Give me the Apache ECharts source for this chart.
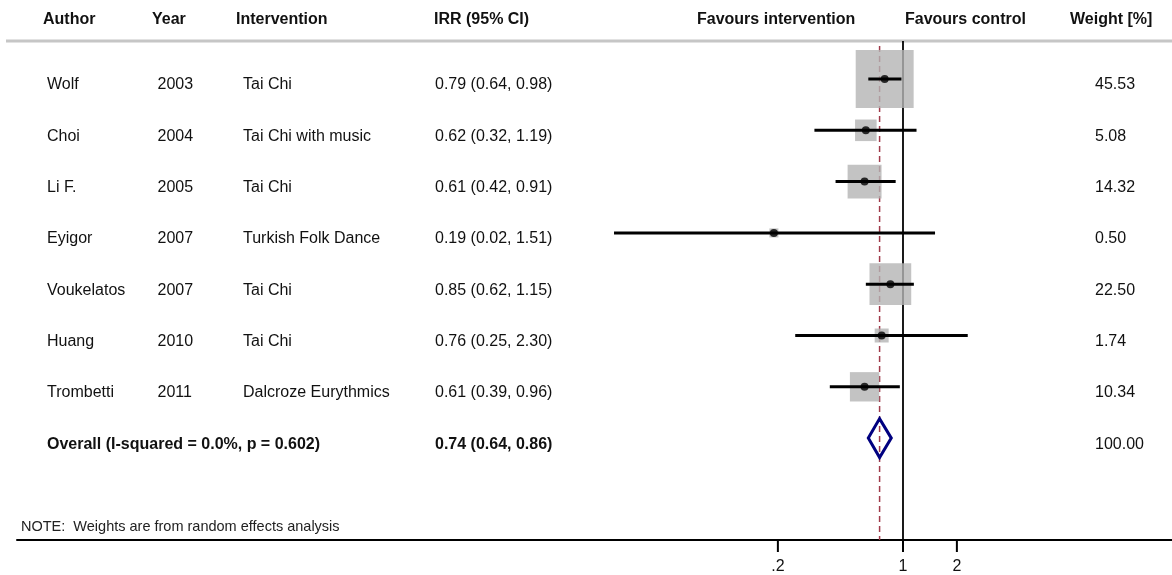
<!DOCTYPE html>
<html><head><meta charset="utf-8">
<script src="https://cdn.jsdelivr.net/npm/echarts@6/dist/echarts.min.js"></script>
<style>html,body{margin:0;padding:0;background:#fff}#c{width:1172px;height:575px}</style>
</head><body><div id="c"></div>
<script>
// ---- data ----
const authors = ['Wolf','Choi','Li F.','Eyigor','Voukelatos','Huang','Trombetti'];
const years = ['2003','2004','2005','2007','2007','2010','2011'];
const interventions = ['Tai Chi','Tai Chi with music','Tai Chi','Turkish Folk Dance','Tai Chi','Tai Chi','Dalcroze Eurythmics'];
const irr = [0.79,0.62,0.61,0.19,0.85,0.76,0.61];
const ciLow = [0.64,0.32,0.42,0.02,0.62,0.25,0.39];
const ciHigh = [0.98,1.19,0.91,1.51,1.15,2.30,0.96];
const weights = [45.53,5.08,14.32,0.50,22.50,1.74,10.34];
const overallLabel = 'Overall (I-squared = 0.0%, p = 0.602)';
const overallIrr = 0.74, overallLow = 0.64, overallHigh = 0.86, overallWeight = 100.00;
const tickValues = [0.2, 1, 2];
const tickLabels = ['.2', '1', '2'];
const headers = ['Author','Year','Intervention','IRR (95% CI)','Favours intervention','Favours control','Weight [%]'];
const note = 'NOTE:  Weights are from random effects analysis';

// ---- layout / style ----
const FONT = '"Liberation Sans", Arial, Helvetica, sans-serif';
const yMin = -0.7407, yMax = 8.986;
const xMin = Math.pow(10, -4.9497), xMax = Math.pow(10, 1.5028);
const displayMin = 0.0243; // plotted range floor (CI clipped like the original)
const rows = authors.map((_, i) => i);
const overallRow = authors.length;
const fmt = v => v.toFixed(2);
const irrText = rows.map(i => `${fmt(irr[i])} (${fmt(ciLow[i])}, ${fmt(ciHigh[i])})`);
const overallText = `${fmt(overallIrr)} (${fmt(overallLow)}, ${fmt(overallHigh)})`;

// table cells: [columnX, row, text, bold]
const colX = {author: 47, year: 157.5, interv: 243, irr: 435, weight: 1095};
const cells = [];
rows.forEach(i => {
  cells.push([colX.author, i, authors[i], 0]);
  cells.push([colX.year, i, years[i], 0]);
  cells.push([colX.interv, i, interventions[i], 0]);
  cells.push([colX.irr, i, irrText[i], 0]);
  cells.push([colX.weight, i, fmt(weights[i]), 0]);
});
cells.push([colX.author, overallRow, overallLabel, 1]);
cells.push([colX.irr, overallRow, overallText, 1]);
cells.push([colX.weight, overallRow, fmt(overallWeight), 0]);

const chart = echarts.init(document.getElementById('c'), null, {renderer: 'canvas'});
const hdrY = 20;
const hdrX = [43, 152, 236, 434, 697, 905, 1070];

chart.setOption({
  animation: false,
  backgroundColor: '#fff',
  grid: [
    {left: 17, right: 0, top: 41, bottom: 35},
    {left: 0, right: 0, top: 41, bottom: 35}
  ],
  xAxis: [
    {type: 'log', logBase: 10, gridIndex: 0, min: xMin, max: xMax,
     axisLine: {show: true, onZero: false, lineStyle: {color: '#000', width: 2}},
     axisTick: {show: false}, axisLabel: {show: false}, splitLine: {show: false}},
    {type: 'value', gridIndex: 1, min: 0, max: 1172, show: false}
  ],
  yAxis: [
    {type: 'value', gridIndex: 0, min: yMin, max: yMax, inverse: true, show: false},
    {type: 'value', gridIndex: 1, min: yMin, max: yMax, inverse: true, show: false}
  ],
  graphic: [
    {type: 'line', shape: {x1: 6, y1: 41, x2: 1172, y2: 41}, style: {stroke: '#c6c6c6', lineWidth: 3}, z: 1},
    ...headers.map((h, k) => ({type: 'text', x: hdrX[k], y: hdrY, z: 10,
      style: {text: h, font: `bold 16px ${FONT}`, fill: '#111', verticalAlign: 'middle'}})),
    {type: 'text', x: 21, y: 527, z: 10,
     style: {text: note, font: `14.5px ${FONT}`, fill: '#222', verticalAlign: 'middle'}}
  ],
  series: [
    // null line (x = 1)
    {type: 'line', xAxisIndex: 0, yAxisIndex: 0, silent: true, symbol: 'none', z: 1,
     data: [[1, yMin], [1, yMax]], lineStyle: {color: '#000', width: 1.8}},
    // overall estimate dashed line
    {type: 'line', xAxisIndex: 0, yAxisIndex: 0, silent: true, symbol: 'none', z: 1,
     data: [[overallIrr, -0.643], [overallIrr, yMax]], lineStyle: {color: '#a03a4a', width: 1.5, type: [6, 4]}},
    // weight boxes
    {type: 'scatter', xAxisIndex: 0, yAxisIndex: 0, silent: true, z: 2, symbol: 'rect',
     data: rows.map(i => [irr[i], i]),
     symbolSize: (v, p) => 8.1 * Math.sqrt(weights[p.dataIndex]) + 3.3,
     itemStyle: {color: '#b4b4b4'}},
    // CI lines
    {type: 'custom', xAxisIndex: 0, yAxisIndex: 0, silent: true, z: 3,
     data: rows.map(i => [Math.max(ciLow[i], displayMin), ciHigh[i], i]),
     encode: {x: [0, 1], y: 2},
     renderItem: (params, api) => {
       const a = api.coord([api.value(0), api.value(2)]);
       const b = api.coord([api.value(1), api.value(2)]);
       return {type: 'line', shape: {x1: a[0], y1: a[1], x2: b[0], y2: b[1]}, style: {stroke: '#000', lineWidth: 3}};
     }},
    // point estimates
    {type: 'scatter', xAxisIndex: 0, yAxisIndex: 0, silent: true, z: 4, symbol: 'circle', symbolSize: 8,
     data: rows.map(i => [irr[i], i]), itemStyle: {color: '#000'}},
    // overall diamond
    {type: 'custom', xAxisIndex: 0, yAxisIndex: 0, silent: true, z: 5,
     data: [[overallLow, overallIrr, overallHigh, overallRow]],
     encode: {x: [0, 1, 2], y: 3},
     renderItem: (params, api) => {
       const l = api.coord([api.value(0), api.value(3)]);
       const c = api.coord([api.value(1), api.value(3)]);
       const r = api.coord([api.value(2), api.value(3)]);
       const h = 19.5;
       return {type: 'polygon', shape: {points: [l, [c[0], c[1] - h], r, [c[0], c[1] + h]]},
               style: {fill: 'none', stroke: '#000080', lineWidth: 3, lineJoin: 'miter'}};
     }},
    // x-axis ticks and labels
    {type: 'custom', xAxisIndex: 0, yAxisIndex: 0, silent: true, z: 6, clip: false,
     data: tickValues.map((v, k) => [v, k]),
     encode: {x: 0},
     renderItem: (params, api) => {
       const p = api.coord([api.value(0), yMax]);
       return {type: 'group', children: [
         {type: 'line', shape: {x1: p[0], y1: p[1], x2: p[0], y2: p[1] + 12}, style: {stroke: '#000', lineWidth: 2}},
         {type: 'text', x: p[0], y: p[1] + 27, style: {text: tickLabels[params.dataIndex], font: `16px ${FONT}`,
           fill: '#111', align: 'center', verticalAlign: 'middle'}}
       ]};
     }},
    // table text
    {type: 'custom', xAxisIndex: 1, yAxisIndex: 1, silent: true, z: 10, clip: false,
     data: cells.map((c, k) => [c[0], c[1], k]),
     encode: {x: 0, y: 1},
     renderItem: (params, api) => {
       const cell = cells[params.dataIndex];
       const p = api.coord([api.value(0), api.value(1)]);
       return {type: 'text', x: p[0], y: p[1] + 6,
               style: {text: cell[2], font: `${cell[3] ? 'bold ' : ''}16px ${FONT}`, fill: '#111',
                       align: 'left', verticalAlign: 'middle'}};
     }}
  ]
});
</script>
</body></html>
